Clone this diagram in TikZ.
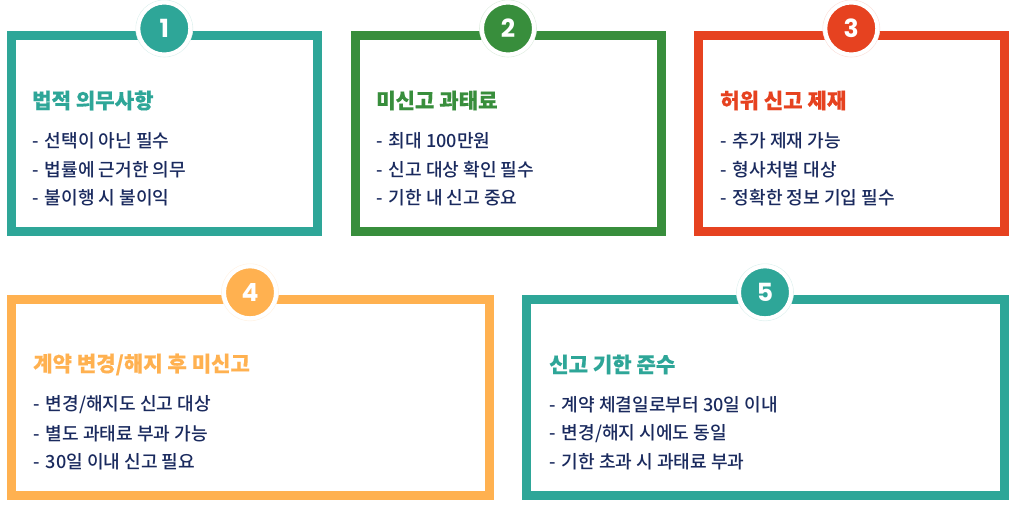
\documentclass[tikz,border=0pt]{standalone}
\usepackage{fontspec}
\setmainfont{Noto Sans CJK KR Medium}[BoldFont={Noto Sans CJK KR Black},BoldFeatures={FakeBold=0.3}]
\newfontfamily\numfont{Poppins}[BoldFont={Poppins Bold}]
\definecolor{cteal}{HTML}{2EA698}
\definecolor{cgreen}{HTML}{388E3C}
\definecolor{cred}{HTML}{E64220}
\definecolor{corange}{HTML}{FFB150}
\definecolor{cnavy}{HTML}{1A2A5E}
\newcommand{\dashmark}{-\kern2pt\relax}
\tikzset{x=1pt,y=-1pt,
  cardbox/.style={draw=#1,line width=9pt,fill=white,rectangle,inner sep=0pt,anchor=north west},
  badge/.style={circle,fill=#1,draw=white,line width=4pt,minimum size=52pt,inner sep=0pt,text=white,font=\numfont\bfseries\fontsize{25}{25}\selectfont},
  halo/.style={circle,draw=#1!15,line width=.6pt,minimum size=57pt,inner sep=0pt,fill=white},
  cardtitle/.style={text=#1,anchor=west,inner sep=0pt,font=\bfseries\fontsize{21.1}{22}\selectfont},
  cardline/.style={text=cnavy,anchor=west,inner sep=0pt,font=\fontsize{18.1}{20}\selectfont},
}
\newcommand{\card}[9]{%
  \node[cardbox=#6,minimum width=#4pt,minimum height=#5pt] (#1) at (#2,#3) {};
  \node[halo=#6] (#1h) at (#7,#9) {};
  \node[badge=#6] (#1n) at (#7,#9) {#8};
}
\begin{document}
\begin{tikzpicture}
\useasboundingbox (0,0) rectangle (1015,509);
\card{a}{7}{31}{305.5}{195.5}{cteal}{164.3}{1}{28.5}
\card{b}{351}{31}{305.5}{195.5}{cgreen}{508}{2}{28.5}
\card{c}{694}{31}{306}{195.5}{cred}{851.3}{3}{28.5}
\card{d}{7}{295}{478}{196}{corange}{250}{4}{292.3}
\card{e}{522}{295}{478}{196}{cteal}{765}{5}{292.3}
\node[cardtitle=cteal] (a0) at (32,100.5) {법적 의무사항};
\node[cardline] (a1) at (32,140.8) {\dashmark{} 선택이 아닌 필수};
\node[cardline] (a2) at (32,169.8) {\dashmark{} 법률에 근거한 의무};
\node[cardline] (a3) at (32,197.8) {\dashmark{} 불이행 시 불이익};
\node[cardtitle=cgreen] (b0) at (376,100.5) {미신고 과태료};
\node[cardline] (b1) at (376,140.8) {\dashmark{} 최대 100만원};
\node[cardline] (b2) at (376,169.8) {\dashmark{} 신고 대상 확인 필수};
\node[cardline] (b3) at (376,197.8) {\dashmark{} 기한 내 신고 중요};
\node[cardtitle=cred] (c0) at (720,100.5) {허위 신고 제재};
\node[cardline] (c1) at (720,140.8) {\dashmark{} 추가 제재 가능};
\node[cardline] (c2) at (720,169.8) {\dashmark{} 형사처벌 대상};
\node[cardline] (c3) at (720,197.8) {\dashmark{} 정확한 정보 기입 필수};
\node[cardtitle=corange] (d0) at (33,364.5) {계약 변경/해지 후 미신고};
\node[cardline] (d1) at (33,404.8) {\dashmark{} 변경/해지도 신고 대상};
\node[cardline] (d2) at (33,433.8) {\dashmark{} 별도 과태료 부과 가능};
\node[cardline] (d3) at (33,461.8) {\dashmark{} 30일 이내 신고 필요};
\node[cardtitle=cteal] (e0) at (549,364.5) {신고 기한 준수};
\node[cardline] (e1) at (549,404.8) {\dashmark{} 계약 체결일로부터 30일 이내};
\node[cardline] (e2) at (549,433.8) {\dashmark{} 변경/해지 시에도 동일};
\node[cardline] (e3) at (549,461.8) {\dashmark{} 기한 초과 시 과태료 부과};
\end{tikzpicture}
\end{document}
